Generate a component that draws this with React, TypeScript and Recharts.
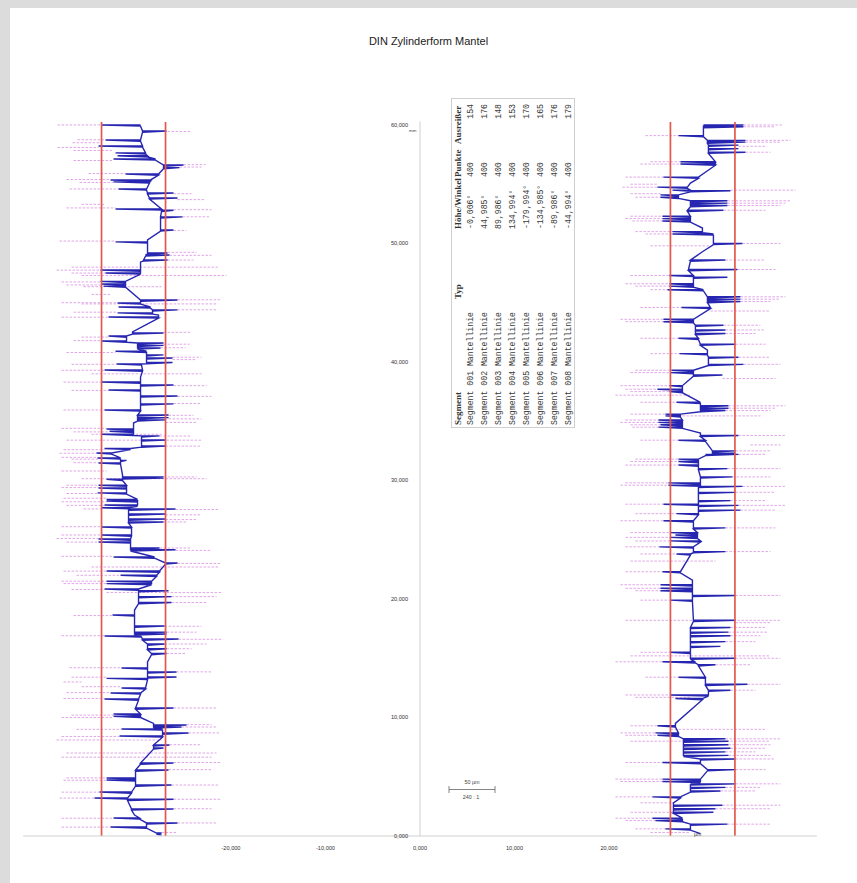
import React from 'react';
import { ComposedChart, Line, XAxis, YAxis } from 'recharts';

// ---------------- data ----------------
const title = 'DIN Zylinderform Mantel';
const xTicks = [-20, -10, 0, 10, 20];
const yTicks = [0, 10, 20, 30, 40, 50, 60];

// axis positions of the first (left) red reference line of each profile
const leftOrigin = -33.7;
const rightOrigin = 26.5;
// deviations below are read in µm-like plot units; this many of them make one axis unit
const devPerAxisUnit = 9.45;
const leftRedDev = [0, 64];
const rightRedDev = [0, 64.5];

// [height mm, base deviation, spike deviation]
const leftSpikes: [number, number, number][] = [
  [60.0, 39, 0], [59.49, 41, 65], [58.73, 39, 4], [58.23, 41, -3], [57.64, 44, 14], [57.4, 46, 16],
  [57.13, 54, 12], [56.62, 62, 82], [56.4, 62, 78], [55.86, 57, 24], [55.36, 49, 9], [55.2, 48, 12],
  [54.6, 45, 17], [54.26, 46, 72], [53.84, 48, 76], [52.91, 60, 14], [52.8, 60, 72], [52.24, 59, 81],
  [51.14, 59, 72], [50.3, 46, 46], [50.13, 46, 14], [49.2, 46, 66], [49.03, 44, 68], [48.61, 42, 66],
  [48.44, 39, 39], [47.76, 39, -1], [47.51, 39, 4], [46.8, 24, -1], [46.58, 24, 0], [46.4, 24, 2],
  [45.23, 39, 76], [44.98, 39, 16], [44.64, 49, 17], [44.4, 51, 76], [44.14, 51, 16], [43.95, 57, 57],
  [43.8, 57, 7], [42.53, 31, 31], [42.45, 31, 62], [42.19, 25, 7], [41.77, 25, 0], [41.6, 36, 62],
  [41.4, 36, 62], [41.18, 36, 59], [40.9, 45, 14], [40.6, 45, 62], [40.34, 45, 71], [39.95, 45, 71],
  [39.83, 40, 15], [39.32, 41, 3], [38.73, 39, 39], [38.31, 39, 0], [38.06, 39, 72], [37.64, 39, 7],
  [37.13, 39, 76], [36.46, 39, 72], [35.95, 39, 3], [35.53, 36, 67], [35.3, 36, 67], [35.11, 36, 64],
  [34.85, 32, 32], [34.35, 32, 5], [34.15, 32, 8], [33.9, 32, 0], [33.76, 40, 58], [33.42, 40, 64],
  [32.91, 40, 64], [32.7, 29, 3], [32.32, 10, -5], [31.9, 19, -4], [31.7, 19, 25], [31.48, 19, -3],
  [30.46, 21, 21], [30.3, 21, 62], [30.21, 21, 62], [30.1, 21, 5], [29.6, 25, -3], [29.37, 25, -3],
  [28.95, 25, -4], [28.4, 36, 5], [28.27, 36, 5], [27.93, 36, 3], [27.7, 27, 0], [27.59, 27, 74],
  [27.17, 27, 64], [26.75, 27, 64], [26.5, 27, 62], [26.08, 30, 0], [25.4, 30, 0], [25.06, 29, -3],
  [24.81, 29, -3], [24.3, 29, 58], [24.15, 29, 74], [23.54, 53, 12], [23.04, 64, 76], [22.36, 58, 5],
  [22.0, 55, 19], [21.5, 50, 5], [21.3, 50, 5], [20.84, 37, 3], [20.7, 37, 67], [20.2, 37, 70],
  [19.7, 37, 70], [19.07, 33, 33], [18.65, 33, 11], [17.72, 33, 63], [17.2, 33, 65], [17.05, 33, 65],
  [16.88, 40, 3], [16.62, 41, 77], [16.2, 46, 63], [15.8, 46, 65], [15.4, 50, 65], [14.68, 46, 46],
  [14.18, 46, 20], [13.84, 46, 75], [13.42, 46, 75], [13.3, 46, 5], [12.49, 44, 20], [12.07, 39, 9],
  [11.56, 37, 3], [10.8, 34, 72], [10.3, 39, 12], [10.1, 39, 12], [9.5, 52, 52], [9.37, 52, 85],
  [9.2, 52, 80], [9.03, 61, 20], [8.69, 61, 87], [8.44, 61, 18], [7.68, 52, 68], [7.43, 52, 62],
  [6.16, 39, 72], [5.57, 34, 67], [4.9, 34, 5], [4.73, 34, 5], [4.3, 34, 70], [3.71, 30, -2],
  [3.21, 26, -7], [3.1, 26, 72], [2.28, 30, 72], [1.77, 33, 33], [1.52, 38, 12], [1.1, 45, 76],
  [0.76, 45, 9], [0.25, 55, 60], [0.08, 60, 60],
];

// [height mm, from deviation, to deviation]
const leftOutliers: [number, number, number][] = [
  [60.0, -44, 0], [59.45, 66, 90], [58.75, -24, 4], [58.5, -29, -1], [58.1, -44, -3], [57.85, -28, 12],
  [57.0, -28, 12], [56.65, 82, 104], [56.45, 78, 100], [55.9, -13, 24], [55.4, -35, 9], [55.15, -22, 12],
  [54.6, -32, 17], [54.2, 72, 90], [53.7, 76, 104], [53.3, -20, 4], [53.0, -35, 14], [52.85, 72, 110],
  [52.25, 81, 109], [51.1, 72, 85], [50.2, -42, 14], [49.25, 66, 95], [49.0, 68, 110], [48.6, 66, 92],
  [48.0, -30, 118], [47.75, -45, -1], [47.5, -30, 4], [47.3, -20, 125], [46.75, -40, -1], [46.5, -35, 0],
  [46.35, -18, 60], [45.7, -10, 10], [45.25, 76, 120], [45.0, -40, 16], [44.9, -20, 115], [44.4, 76, 115],
  [44.2, -28, 16], [43.78, -40, 7], [42.5, 62, 90], [42.1, -20, 7], [41.8, -28, 0], [41.5, 62, 88],
  [41.2, 59, 84], [40.8, -35, 14], [40.4, 71, 100], [40.2, 71, 95], [39.8, -30, 15], [39.3, -40, 3],
  [39.0, -10, 100], [38.3, -38, 0], [38.0, 72, 105], [37.6, -30, 7], [37.1, 76, 110], [36.5, 72, 100],
  [35.95, -38, 3], [35.5, 67, 92], [35.2, 67, 100], [34.9, 64, 95], [34.4, -40, 5], [34.1, -28, 8],
  [33.9, -10, 60], [33.75, 58, 90], [33.4, -35, 100], [32.9, 64, 100], [32.6, -38, 3], [32.3, -42, -5],
  [31.95, -40, -4], [31.8, -30, -3], [31.5, -28, -3], [30.8, -40, 5], [30.3, 62, 95], [30.15, -20, 105],
  [29.6, -35, -3], [29.4, -40, -3], [28.9, -35, -4], [28.5, -38, 5], [28.2, -40, 5], [27.9, -35, 3],
  [27.6, -18, 0], [27.55, 74, 118], [27.1, 64, 100], [26.7, 64, 95], [26.5, 62, 85], [26.1, -40, 0],
  [25.4, -40, 0], [25.1, -45, -3], [24.8, -35, -3], [24.3, 58, 90], [24.1, 74, 110], [23.6, -40, 12],
  [23.0, 76, 120], [22.7, -10, 118], [22.35, -38, 5], [22.0, -25, 19], [21.5, -40, 5], [21.3, -38, 5],
  [20.8, -30, 3], [20.55, 5, 120], [20.2, 70, 115], [19.7, 70, 105], [18.6, -28, 11], [17.7, 63, 100],
  [17.2, 65, 95], [16.9, -40, 3], [16.6, 77, 120], [16.2, 63, 105], [15.8, 65, 90], [15.4, 65, 85],
  [14.2, -32, 20], [13.85, 75, 110], [13.4, -30, 5], [13.0, -38, -20], [12.6, -20, 20], [12.1, -35, 9],
  [11.6, -38, 3], [10.8, 72, 115], [10.2, -30, 12], [10.0, -40, 12], [9.4, 85, 110], [9.2, 80, 115],
  [9.0, -25, 20], [8.7, 87, 118], [8.4, -40, 18], [8.1, -45, 60], [7.7, 68, 100], [7.0, -35, 115],
  [6.65, -40, 110], [6.2, 72, 120], [5.6, 67, 110], [4.9, -35, 5], [4.7, -38, 5], [4.3, 70, 118],
  [3.7, -40, -2], [3.2, -42, -7], [3.1, 72, 120], [2.3, 72, 110], [1.5, -40, 12], [1.1, 76, 115],
  [0.75, -40, 9], [0.3, 60, 75],
];

const rightSpikes: [number, number, number][] = [
  [60.0, 33, 73], [59.85, 33, 73], [59.1, 33, 8], [58.7, 37, 75], [58.55, 37, 75], [58.3, 38, 68],
  [58.0, 38, 68], [57.7, 38, 75], [56.9, 45, 10], [56.7, 45, 10], [55.6, 28, -7], [55.1, 20, 20],
  [54.75, 17, -13], [54.5, 20, 2], [54.45, 20, 60], [54.1, 8, -10], [53.9, 8, -10], [53.6, 20, 57],
  [53.4, 20, 57], [53.2, 20, 57], [52.8, 17, 53], [52.3, 20, -8], [52.1, 20, -8], [51.9, 20, -8],
  [51.3, 32, 32], [51.0, 32, 2], [50.8, 43, 2], [50.6, 43, 43], [50.0, 43, 72], [49.3, 32, 32],
  [48.6, 20, 55], [47.8, 18, 67], [47.3, 23, -1], [47.15, 23, 57], [46.6, 23, -1], [46.4, 23, -1],
  [46.1, 33, -3], [45.5, 37, 70], [45.3, 37, 70], [45.1, 37, 70], [44.6, 40, 11], [43.6, 23, -7],
  [43.4, 23, -7], [43.1, 25, 53], [42.7, 25, 55], [42.4, 25, 55], [42.0, 28, 8], [41.5, 30, 65],
  [41.0, 37, 37], [40.7, 37, 9], [40.4, 38, 68], [39.8, 38, 73], [39.3, 23, 1], [39.1, 23, 0],
  [38.9, 23, 52], [38.0, 12, -1], [37.7, 12, -13], [37.5, 12, -1], [36.6, 30, 6], [36.3, 30, 58],
  [36.1, 30, 58], [35.9, 30, 55], [35.6, 10, -5], [35.45, 10, -5], [35.1, 12, -12], [34.9, 12, -12],
  [34.7, 12, -10], [34.5, 12, -12], [34.0, 30, 30], [33.8, 30, 68], [33.4, 35, 8], [32.5, 42, 65],
  [32.3, 42, 65], [32.2, 35, 68], [31.8, 28, 8], [31.6, 28, 8], [31.3, 28, 8], [31.0, 28, 57],
  [30.3, 30, 62], [29.8, 30, -2], [29.6, 30, -2], [29.5, 28, 72], [29.0, 28, 65], [28.3, 28, 60],
  [28.0, 28, -7], [27.9, 28, 68], [27.5, 28, 70], [27.2, 28, 6], [26.6, 23, -7], [26.0, 23, 55],
  [25.6, 27, 0], [25.4, 27, 5], [25.2, 27, 0], [24.9, 30, 0], [24.4, 23, -11], [24.0, 23, 55],
  [23.8, 20, 6], [22.3, 10, -8], [21.6, 22, 22], [21.2, 22, -10], [20.9, 22, -10], [20.7, 22, -10],
  [20.3, 22, 65], [19.9, 22, 0], [18.2, 23, 65], [17.6, 20, 60], [17.2, 20, 58], [16.9, 20, 60],
  [16.4, 20, 55], [16.0, 20, 50], [15.5, 20, 0], [15.0, 20, 65], [14.7, 25, -8], [14.45, 28, 45],
  [13.4, 35, 8], [12.8, 35, 77], [12.3, 38, 60], [11.9, 38, 0], [11.6, 32, 5], [9.5, 5, 5],
  [9.3, 5, -13], [8.7, 8, -15], [8.5, 8, -13], [8.2, 13, 55], [8.0, 13, 58], [7.7, 13, 58],
  [7.4, 13, 60], [7.1, 13, 55], [6.8, 13, 58], [6.5, 30, 65], [6.2, 30, -8], [5.6, 37, 65],
  [4.8, 30, -8], [4.6, 30, -8], [4.4, 20, 65], [4.1, 20, 55], [3.8, 20, 50], [3.3, 10, -18],
  [2.8, 3, 3], [2.6, 3, 52], [2.3, 3, 45], [2.0, 3, 43], [1.5, 12, -18], [1.3, 12, -15],
  [1.0, 20, 57], [0.6, 20, -5], [0.2, 30, 30],
];

const rightOutliers: [number, number, number][] = [
  [60.0, 73, 112], [59.85, 73, 105], [59.1, -25, 8], [58.7, 75, 120], [58.55, 75, 110], [58.2, 68, 95],
  [57.7, 75, 100], [56.9, -20, 10], [56.7, -30, 10], [55.6, -45, -7], [55.0, -40, -13], [54.75, -48, -13],
  [54.5, 60, 125], [54.2, -40, -10], [53.9, -35, -10], [53.6, 57, 120], [53.4, 57, 115], [53.2, 57, 110],
  [52.8, 53, 95], [52.3, -40, -8], [52.1, -45, -8], [51.9, -38, -8], [51.0, -35, 2], [50.8, -25, 2],
  [50.0, 72, 110], [49.8, -20, 40], [48.6, 55, 95], [47.8, 67, 105], [47.3, -40, -1], [46.6, -45, -1],
  [46.4, -35, -1], [46.1, -20, -3], [45.5, 70, 115], [45.3, 70, 110], [45.1, 70, 100], [44.6, -30, 11],
  [44.3, 40, 100], [43.6, -50, -7], [43.4, -45, -7], [43.1, 53, 90], [42.7, 55, 95], [42.4, 55, 85],
  [42.0, -30, 8], [41.5, 65, 95], [40.7, -20, 9], [40.4, 68, 100], [39.8, 73, 110], [39.3, -35, 1],
  [39.1, -40, 0], [38.6, 52, 105], [38.0, -50, -1], [37.7, -45, -13], [37.5, -40, -1], [37.2, -55, 20],
  [36.6, -30, 6], [36.3, 58, 115], [36.1, 58, 105], [35.9, 55, 100], [35.6, -40, -5], [35.45, 0, 90],
  [35.1, -45, -12], [34.9, -50, -12], [34.7, -40, -10], [34.5, -38, -12], [33.8, 68, 115], [33.4, -30, 8],
  [33.0, 80, 110], [32.5, 65, 100], [32.2, 68, 95], [31.8, -35, 8], [31.6, -40, 8], [31.3, -45, 8],
  [31.0, 57, 110], [30.3, 62, 100], [29.8, -45, -2], [29.6, -50, -2], [29.5, 72, 115], [29.0, 65, 105],
  [28.3, 60, 95], [28.0, -45, -7], [27.9, 68, 115], [27.5, 70, 105], [27.2, -35, 6], [26.6, -50, -7],
  [26.0, 55, 105], [25.6, -40, 0], [25.2, -45, 0], [24.9, -35, 0], [24.4, -45, -11], [24.0, 55, 100],
  [23.8, -30, 6], [23.2, -40, 45], [22.3, -45, -8], [21.2, -50, -10], [20.9, -45, -10], [20.7, -35, -10],
  [20.3, 65, 110], [19.9, -30, 0], [18.2, -45, 110], [18.0, 65, 100], [17.6, 60, 95], [17.2, 58, 98],
  [16.9, 60, 90], [16.4, 55, 85], [15.5, -30, 0], [15.2, -40, 100], [15.0, 65, 110], [14.7, -55, -8],
  [14.45, 45, 80], [13.4, -25, 8], [12.8, 77, 110], [12.3, 60, 85], [11.9, -45, 0], [11.7, -35, 20],
  [9.3, -40, -13], [9.0, 0, 95], [8.7, -50, -15], [8.5, -45, -13], [8.2, 55, 110], [8.0, -40, 100],
  [7.7, 58, 100], [7.4, 60, 95], [7.1, 55, 85], [6.8, 58, 100], [6.5, 65, 105], [6.2, -45, -8],
  [5.6, 65, 95], [4.8, -55, -8], [4.6, -50, -8], [4.4, 65, 110], [4.1, 55, 90], [3.8, 50, 85],
  [3.3, -55, -18], [2.8, -30, 3], [2.6, 52, 110], [2.3, 45, 100], [2.0, -40, 43], [1.5, -55, -18],
  [1.3, -45, -15], [1.0, 57, 100], [0.6, -35, -5], [0.3, -20, 20],
];

// table
const tableHeaders = ['Segment', 'Typ', 'Höhe/Winkel', 'Punkte', 'Ausreißer'];
const segNames = ['Segment 001', 'Segment 002', 'Segment 003', 'Segment 004', 'Segment 005', 'Segment 006', 'Segment 007', 'Segment 008'];
const segTypes = ['Mantellinie', 'Mantellinie', 'Mantellinie', 'Mantellinie', 'Mantellinie', 'Mantellinie', 'Mantellinie', 'Mantellinie'];
const segAngles = ['-0,006°', '44,985°', '89,986°', '134,994°', '-179,994°', '-134,985°', '-89,986°', '-44,994°'];
const segPoints = [400, 400, 400, 400, 400, 400, 400, 400];
const segOutliers = [154, 176, 148, 153, 170, 165, 176, 179];

const scaleLabel = '50 µm';
const scaleRatio = '240 : 1';
const yUnit = 'mm';
const devUnit = 'µm';

// ---------------- helpers ----------------
const toX = (origin: number, dev: number) => origin + dev / devPerAxisUnit;
const fmt = (v: number) => v.toFixed(3).replace('.', ',');

function profilePoints(spikes: [number, number, number][], origin: number) {
  const pts: { x: number; h: number | null }[] = [];
  for (const [h, base, ext] of spikes) {
    pts.push({ x: toX(origin, base), h });
    if (ext !== base) {
      pts.push({ x: toX(origin, ext), h });
      pts.push({ x: toX(origin, base), h: h - 0.1 });
    }
  }
  return pts;
}

function outlierPoints(segs: [number, number, number][], origin: number) {
  const pts: { x: number; h: number | null }[] = [];
  for (const [h, a, b] of segs) {
    pts.push({ x: toX(origin, a), h });
    pts.push({ x: toX(origin, b), h });
    pts.push({ x: toX(origin, b), h: null });
  }
  return pts;
}

const redLine = (origin: number, dev: number) => [
  { x: toX(origin, dev), h: 0 },
  { x: toX(origin, dev), h: 60.25 },
];

const leftProfile = profilePoints(leftSpikes, leftOrigin);
const rightProfile = profilePoints(rightSpikes, rightOrigin);
const leftOut = outlierPoints(leftOutliers, leftOrigin);
const rightOut = outlierPoints(rightOutliers, rightOrigin);
const axisAnchor = yTicks.map((v) => ({ x: 0, h: v }));

const BLUE = '#2626b0';
const PINK = '#d98fe2';
const RED = '#e4574c';
const tickStyle = { fontSize: 5.6, fill: '#333', fontFamily: 'Liberation Sans, Arial, sans-serif' };

const MARGIN = { top: 113.4, right: 40.1, bottom: 27, left: 13.1 };

function Table() {
  const W = 330;
  const H = 124;
  const rowCenters = [19, 33, 47, 61, 75, 89, 103, 117];
  const headerLeft = [2, 128, 198, 250, 283];
  const hStyle: React.CSSProperties = {
    position: 'absolute', top: 1, height: 11, lineHeight: '11px', whiteSpace: 'pre',
    fontFamily: 'Liberation Serif, Times New Roman, serif', fontWeight: 'bold', fontSize: 9, color: '#333',
  };
  const dStyle: React.CSSProperties = {
    position: 'absolute', height: 10, lineHeight: '10px', whiteSpace: 'pre',
    fontFamily: 'Liberation Mono, Courier New, monospace', fontSize: 8.2, color: '#3a3a3a',
  };
  return (
    <div
      style={{
        position: 'absolute', left: 451, top: 428, width: W, height: H,
        transformOrigin: '0 0', transform: 'rotate(-90deg)',
        border: '1px solid #cfcfcf', boxSizing: 'border-box', background: '#fff',
      }}
    >
      {tableHeaders.map((t, i) => (
        <span key={t} style={{ ...hStyle, left: headerLeft[i] }}>{t}</span>
      ))}
      {segNames.map((s, i) => (
        <React.Fragment key={s}>
          <span style={{ ...dStyle, top: rowCenters[i] - 5, left: 2 }}>{s + ' ' + segTypes[i]}</span>
          <span style={{ ...dStyle, top: rowCenters[i] - 5, left: 198 }}>{segAngles[i]}</span>
          <span style={{ ...dStyle, top: rowCenters[i] - 5, left: 250 }}>{String(segPoints[i])}</span>
          <span style={{ ...dStyle, top: rowCenters[i] - 5, right: 5 }}>{String(segOutliers[i])}</span>
        </React.Fragment>
      ))}
    </div>
  );
}

export default function App() {
  return (
    <div style={{ position: 'absolute', left: 0, top: 0, width: 857, height: 883, background: '#dcdcdc', overflow: 'hidden' }}>
      <div style={{ position: 'absolute', left: 10, top: 8, width: 847, height: 875, background: '#fff' }} />
      <div
        style={{
          position: 'absolute', left: 0, top: 35, width: 857, textAlign: 'center',
          fontFamily: 'Liberation Sans, Arial, sans-serif', fontSize: 11, lineHeight: '12px', color: '#222',
        }}
      >
        {title}
      </div>

      {/* main plot: profiles */}
      <div style={{ position: 'absolute', left: 10, top: 8 }}>
        <ComposedChart width={847} height={875} margin={MARGIN}>
          <XAxis
            type="number" dataKey="x" domain={[-42, 42]} allowDataOverflow ticks={xTicks} interval={0}
            tickFormatter={fmt} axisLine={{ stroke: '#d0d0d0' }} tickLine={false} tickSize={0} tickMargin={10}
            height={20} tick={tickStyle}
          />
          <YAxis type="number" domain={[0, 60.3]} allowDataOverflow hide />
          <Line data={leftOut} dataKey="h" type="linear" stroke={PINK} strokeWidth={0.8} strokeDasharray="2.5 1.5" dot={false} activeDot={false} isAnimationActive={false} />
          <Line data={rightOut} dataKey="h" type="linear" stroke={PINK} strokeWidth={0.8} strokeDasharray="2.5 1.5" dot={false} activeDot={false} isAnimationActive={false} />
          <Line data={leftProfile} dataKey="h" type="linear" stroke={BLUE} strokeWidth={1.4} dot={false} activeDot={false} isAnimationActive={false} />
          <Line data={rightProfile} dataKey="h" type="linear" stroke={BLUE} strokeWidth={1.4} dot={false} activeDot={false} isAnimationActive={false} />
          {leftRedDev.map((d) => (
            <Line key={'l' + d} data={redLine(leftOrigin, d)} dataKey="h" type="linear" stroke={RED} strokeWidth={1.7} dot={false} activeDot={false} isAnimationActive={false} />
          ))}
          {rightRedDev.map((d) => (
            <Line key={'r' + d} data={redLine(rightOrigin, d)} dataKey="h" type="linear" stroke={RED} strokeWidth={1.7} dot={false} activeDot={false} isAnimationActive={false} />
          ))}
        </ComposedChart>
      </div>

      {/* central height axis */}
      <div style={{ position: 'absolute', left: 360, top: 8 }}>
        <ComposedChart width={100} height={875} margin={{ top: MARGIN.top, right: 35, bottom: 47, left: 0 }}>
          <XAxis type="number" dataKey="x" domain={[0, 1]} hide />
          <YAxis
            type="number" domain={[0, 60.3]} allowDataOverflow ticks={yTicks} interval={0} tickFormatter={fmt}
            width={60} axisLine={{ stroke: '#d0d0d0' }} tickLine={false} tickSize={0} tickMargin={12} tick={tickStyle}
          />
          <Line data={axisAnchor} dataKey="h" stroke="transparent" dot={false} activeDot={false} isAnimationActive={false} />
        </ComposedChart>
      </div>

      <Table />

      {/* annotations: units and scale bar */}
      <svg width={857} height={883} style={{ position: 'absolute', left: 0, top: 0, pointerEvents: 'none' }}>
        <text x={409} y={132} fontSize={4.4} fill="#444" fontFamily="Liberation Sans, Arial, sans-serif">{yUnit}</text>
        <text x={694} y={836} fontSize={5} fill="#333" fontFamily="Liberation Sans, Arial, sans-serif">{devUnit}</text>
        <line x1={449} y1={789.5} x2={495} y2={789.5} stroke="#666" strokeWidth={0.8} />
        <line x1={449} y1={786} x2={449} y2={793} stroke="#666" strokeWidth={0.8} />
        <line x1={495} y1={786} x2={495} y2={793} stroke="#666" strokeWidth={0.8} />
        <text x={472} y={784} textAnchor="middle" fontSize={5.4} fill="#444" fontFamily="Liberation Sans, Arial, sans-serif">{scaleLabel}</text>
        <text x={471} y={799} textAnchor="middle" fontSize={5.4} fill="#444" fontFamily="Liberation Sans, Arial, sans-serif">{scaleRatio}</text>
      </svg>
    </div>
  );
}
